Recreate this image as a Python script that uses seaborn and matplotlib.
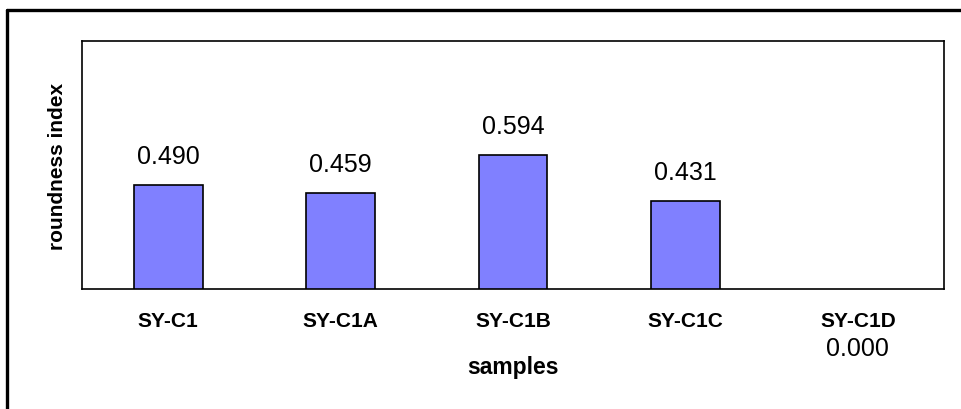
import matplotlib
matplotlib.use("Agg")
import matplotlib.pyplot as plt
from matplotlib.lines import Line2D
import numpy as np
import pandas as pd
import seaborn as sns

samples = ["SY-C1", "SY-C1A", "SY-C1B", "SY-C1C", "SY-C1D"]
roundness = [0.490, 0.459, 0.594, 0.431, 0.000]
value_labels = ["0.490", "0.459", "0.594", "0.431", "0.000"]

y_min, y_max = 0.12, 1.0

sns.set_theme(style="white")
plt.rcParams["font.family"] = ["Liberation Sans", "DejaVu Sans"]

fig = plt.figure(figsize=(9.62, 4.10), dpi=100)
ax = fig.add_axes([82 / 962, 1 - 290 / 410, (944 - 82) / 962, (290 - 42) / 410])

df = pd.DataFrame({"sample": samples, "roundness": roundness})
sns.barplot(data=df, x="sample", y="roundness", color="#8080FF", saturation=1,
            edgecolor="black", linewidth=1.2, width=0.4, ax=ax)

ax.set_ylim(y_min, y_max)
ax.set_xlim(-0.5, len(samples) - 0.5)
ax.set_yticks([])

# category separators on the x axis
ax.set_xticks(np.arange(-0.5, len(samples)), minor=True)
ax.tick_params(axis="x", which="minor", direction="inout", length=14, width=1, color="black")
ax.tick_params(axis="x", which="major", length=0, pad=16)
for lbl in ax.get_xticklabels():
    lbl.set_fontweight("bold")
    lbl.set_fontsize(15)
    lbl.set_color("black")

for side in ["left", "right", "top", "bottom"]:
    ax.spines[side].set_visible(True)
    ax.spines[side].set_color("black")
    ax.spines[side].set_linewidth(1.2)

# value labels
for i, (v, t) in enumerate(zip(roundness, value_labels)):
    if v >= y_min:
        ax.annotate(t, xy=(i, v), xytext=(0, 21), textcoords="offset points",
                    ha="center", va="center", fontsize=18, color="black",
                    annotation_clip=False)
    else:
        ax.annotate(t, xy=(i, v), xytext=(0, -18), textcoords="offset points",
                    ha="center", va="center", fontsize=18, color="black",
                    annotation_clip=False)

ax.set_xlabel("samples", fontsize=16.5, fontweight="bold", color="black", labelpad=18)
ax.set_ylabel("roundness index", fontsize=15, fontweight="bold", color="black", labelpad=10.5)

# outer chart frame
fig.add_artist(Line2D([7 / 962, 1.01], [1 - 11 / 410, 1 - 11 / 410],
                      transform=fig.transFigure, color="black", linewidth=2.4))
fig.add_artist(Line2D([7 / 962, 7 / 962], [1 - 11 / 410, -0.01],
                      transform=fig.transFigure, color="black", linewidth=2.4))

fig.savefig("out.png", dpi=100)
